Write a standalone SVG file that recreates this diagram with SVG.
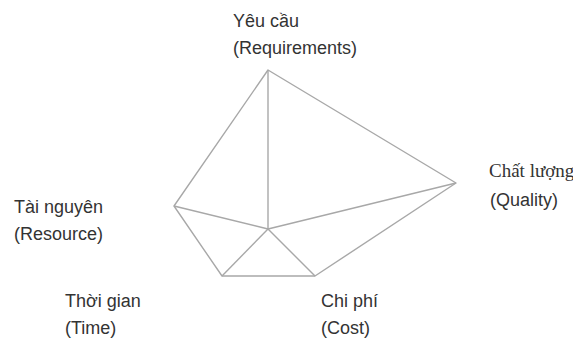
<svg xmlns="http://www.w3.org/2000/svg" width="573" height="343" viewBox="0 0 573 343">
  <style>
    .edge { stroke: #a8a8a8; stroke-width: 1.4; fill: none; stroke-linejoin: round; }
    .lbl { font-family: "Liberation Sans", Arial, sans-serif; font-size: 18px; fill: #333333; }
    .serif { font-family: "Liberation Serif", "Times New Roman", serif; font-size: 19px; fill: #333333; }
  </style>
  <rect width="573" height="343" fill="#ffffff"/>

  <!-- connectors: outer pentagon and spokes from the centre -->
  <g id="connectors">
    <polygon class="edge" points="268,70 456,183 315,276 222,276 174,206"/>
    <line class="edge" x1="268" y1="229" x2="268" y2="70"/>
    <line class="edge" x1="268" y1="229" x2="174" y2="206"/>
    <line class="edge" x1="268" y1="229" x2="456" y2="183"/>
    <line class="edge" x1="268" y1="229" x2="222" y2="276"/>
    <line class="edge" x1="268" y1="229" x2="315" y2="276"/>
  </g>

  <g id="requirements">
    <text class="lbl" x="233" y="27">Yêu cầu</text>
    <text class="lbl" x="233" y="54">(Requirements)</text>
  </g>
  <g id="quality">
    <text class="serif" x="489" y="177">Chất lượng</text>
    <text class="lbl" x="490" y="206">(Quality)</text>
  </g>
  <g id="resource">
    <text class="lbl" x="14" y="213">Tài nguyên</text>
    <text class="lbl" x="14" y="240">(Resource)</text>
  </g>
  <g id="time">
    <text class="lbl" x="65" y="307">Thời gian</text>
    <text class="lbl" x="65" y="334">(Time)</text>
  </g>
  <g id="cost">
    <text class="lbl" x="321" y="307">Chi phí</text>
    <text class="lbl" x="321" y="334">(Cost)</text>
  </g>
</svg>
